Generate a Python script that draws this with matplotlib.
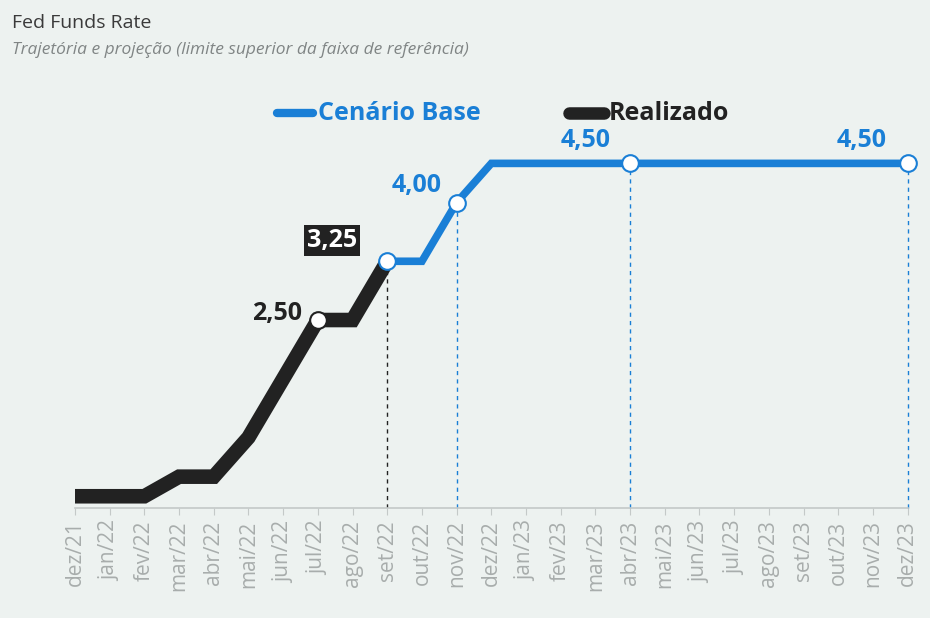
import matplotlib.pyplot as plt
from matplotlib.lines import Line2D

# meses de dez/21 a dez/23
meses = ['dez/21', 'jan/22', 'fev/22', 'mar/22', 'abr/22', 'mai/22', 'jun/22',
         'jul/22', 'ago/22', 'set/22', 'out/22', 'nov/22', 'dez/22', 'jan/23',
         'fev/23', 'mar/23', 'abr/23', 'mai/23', 'jun/23', 'jul/23', 'ago/23',
         'set/23', 'out/23', 'nov/23', 'dez/23']

# realizado (dez/21 a set/22)
realizado = [0.25, 0.25, 0.25, 0.50, 0.50, 1.00, 1.75, 2.50, 2.50, 3.25]
# cenario base (set/22 a dez/23)
cenario = [3.25, 3.25, 4.00, 4.50, 4.50, 4.50, 4.50, 4.50, 4.50, 4.50,
           4.50, 4.50, 4.50, 4.50, 4.50, 4.50]

azul = '#1a7fd6'
preto = '#222222'
fundo = '#edf2f0'

plt.rcParams['font.family'] = ['Open Sans', 'DejaVu Sans']

fig = plt.figure(figsize=(9.3, 6.18), dpi=100, facecolor=fundo)
ax = fig.add_axes([0.0806, 0.178, 0.8954, 0.621])
ax.set_facecolor(fundo)

x_real = list(range(len(realizado)))
x_cen = list(range(len(realizado) - 1, len(meses)))

ax.plot(x_cen, cenario, color=azul, lw=5.5, solid_joinstyle='miter', zorder=3,
        clip_on=False)
ax.plot(x_real, realizado, color=preto, lw=10.5, solid_joinstyle='miter',
        solid_capstyle='butt', zorder=4)

# linhas tracejadas verticais
ax.vlines(9, 0.1, realizado[9], colors=preto, linestyles=(0, (3, 3)), lw=1, zorder=2)
for i in [11, 16, 24]:
    ax.vlines(i, 0.1, cenario[i - 9], colors=azul, linestyles=(0, (3, 3)), lw=1,
              zorder=2, clip_on=False)

# marcadores
ax.plot([7], [realizado[7]], 'o', ms=12, mfc='white', mec=preto, mew=1.5, zorder=6)
for i in [9, 11, 16, 24]:
    ax.plot([i], [cenario[i - 9]], 'o', ms=12, mfc='white', mec=azul, mew=1.5,
            zorder=6, clip_on=False)

# rotulos
ax.text(6.55, 2.58, '2,50', color=preto, fontsize=18, fontweight='bold',
        ha='right', va='center', zorder=7)
ax.text(7.4, 3.52, '3,25', color='white', fontsize=18, fontweight='bold',
        ha='center', va='center', zorder=7,
        bbox=dict(boxstyle='square,pad=0.12', fc=preto, ec='none'))
ax.text(9.86, 4.22, '4,00', color=azul, fontsize=18, fontweight='bold',
        ha='center', va='center', zorder=7)
ax.text(14.72, 4.79, '4,50', color=azul, fontsize=18, fontweight='bold',
        ha='center', va='center', zorder=7)
ax.text(22.67, 4.79, '4,50', color=azul, fontsize=18, fontweight='bold',
        ha='center', va='center', zorder=7)

ax.set_xlim(0, 24)
ax.set_ylim(0.1, 5.0)
ax.set_xticks(range(len(meses)))
ax.set_xticklabels(meses, rotation=90, fontsize=15, color='#a8adac')
ax.tick_params(axis='x', length=5, color='#c4c9c8', pad=4)
ax.set_yticks([])
for s in ['top', 'right', 'left']:
    ax.spines[s].set_visible(False)
ax.spines['bottom'].set_color('#c4c9c8')
ax.spines['bottom'].set_linewidth(1.2)

# titulo
fig.text(0.013, 0.962, 'Fed Funds Rate', fontsize=14, color='#3a3a3a',
         ha='left', va='center')
fig.text(0.013, 0.919, 'Trajetória e projeção (limite superior da faixa de referência)',
         fontsize=12.5, color='#808585', style='italic', ha='left', va='center')

# legenda
H = 618
W = 930
fig.add_artist(Line2D([277 / W, 313 / W], [1 - 113 / H, 1 - 113 / H], color=azul,
                      lw=6, solid_capstyle='round'))
fig.text(318 / W, 1 - 113 / H, 'Cenário Base', color=azul, fontsize=18,
         fontweight='bold', ha='left', va='center')
fig.add_artist(Line2D([569 / W, 604 / W], [1 - 113 / H, 1 - 113 / H], color=preto,
                      lw=9, solid_capstyle='round'))
fig.text(609 / W, 1 - 113 / H, 'Realizado', color=preto, fontsize=18,
         fontweight='bold', ha='left', va='center')

fig.savefig('out.png', dpi=100, facecolor=fundo)
